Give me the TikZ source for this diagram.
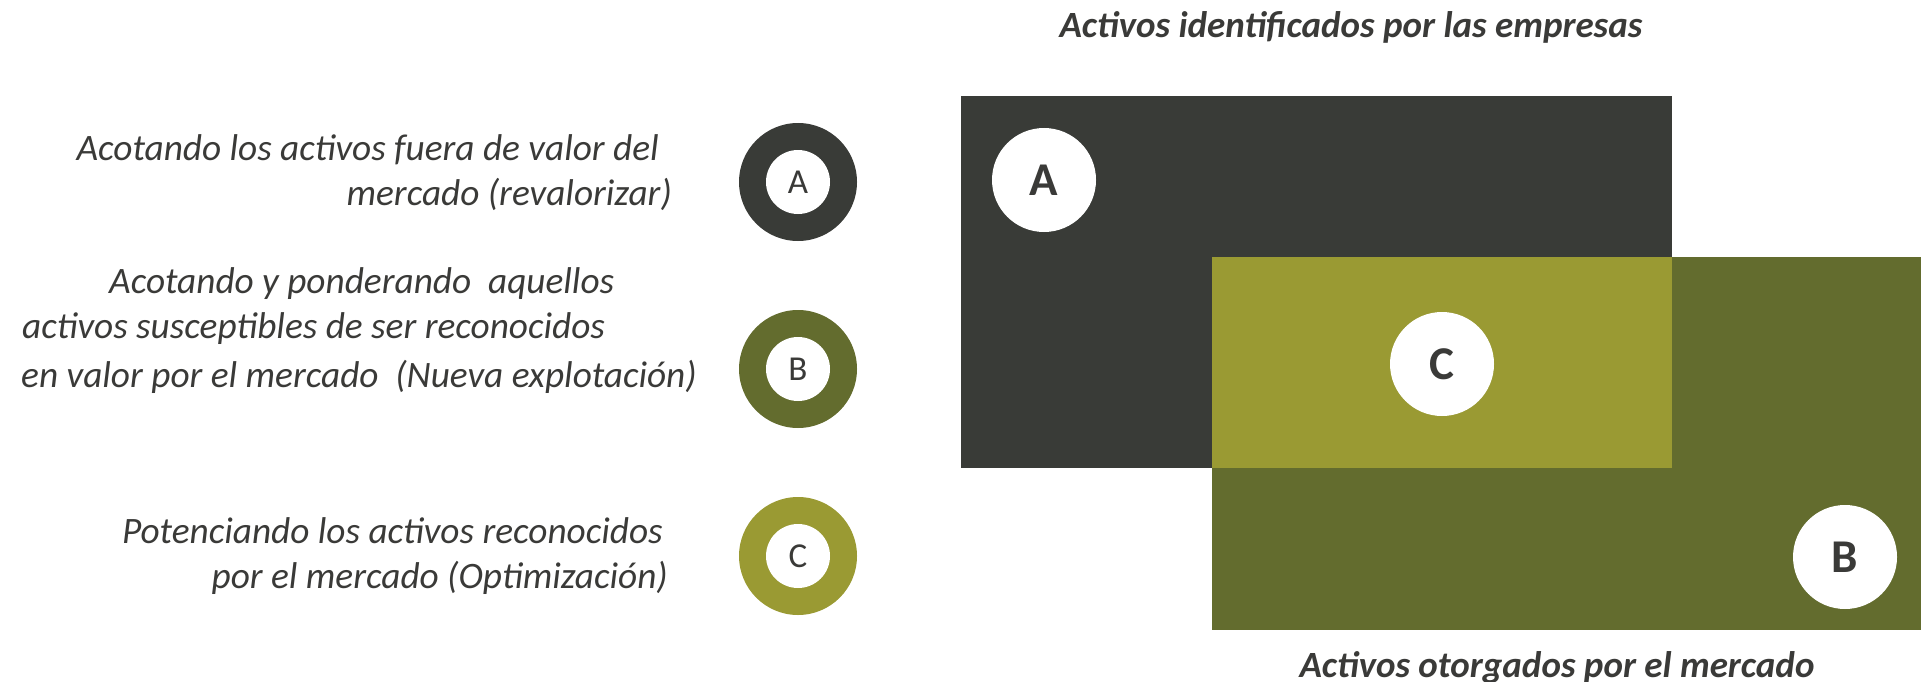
\documentclass[tikz,border=0pt]{standalone}
\usepackage{fontspec}
\setmainfont{Carlito}
\definecolor{inkgray}{HTML}{3A3A38}
\definecolor{darkbox}{HTML}{393B37}
\definecolor{olivebox}{HTML}{636C2E}
\definecolor{limebox}{HTML}{9A9A33}
\begin{document}
\begin{tikzpicture}[x=1pt,y=-1pt,
  desc/.style={inner sep=0pt,text=inkgray,font=\fontsize{37.3}{44}\selectfont\itshape},
  heading/.style={inner sep=0pt,text=inkgray,font=\fontsize{37}{44}\selectfont\bfseries\itshape},
  bigdisc/.style={circle,fill=white,minimum size=104pt,inner sep=0pt,text=inkgray,font=\fontsize{47}{50}\selectfont\bfseries},
  ringouter/.style={circle,minimum size=118pt,inner sep=0pt},
  ringinner/.style={circle,fill=white,minimum size=64pt,inner sep=0pt,text=inkgray,font=\fontsize{35}{40}\selectfont}]
  \useasboundingbox (0,0) rectangle (1921,682);

  % titles
  \node[heading,anchor=base] (ttop) at (1351,38) {Activos identificados por las empresas};
  \node[heading,anchor=base] (tbot) at (1557,677) {Activos otorgados por el mercado};

  % overlapping areas
  \fill[darkbox] (961,96) rectangle (1672,468);
  \fill[olivebox] (1212,257) rectangle (1921,630);
  \fill[limebox] (1212,257) rectangle (1672,468);

  \node[bigdisc] (bA) at (1044,180) {A};
  \node[bigdisc] (bC) at (1442,364) {C};
  \node[bigdisc] (bB) at (1845,557) {B};

  % legend rings
  \node[ringouter,fill=darkbox] (rA) at (798,182) {};
  \node[ringinner] (iA) at (rA) {A};
  \node[ringouter,fill=olivebox] (rB) at (798,369) {};
  \node[ringinner] (iB) at (rB) {B};
  \node[ringouter,fill=limebox] (rC) at (798,556) {};
  \node[ringinner] (iC) at (rC) {C};

  % legend texts
  \node[desc,anchor=base east] (a1) at (659,160) {Acotando los activos fuera de valor del};
  \node[desc,anchor=base east] (a2) at (672,205) {mercado (revalorizar)};
  \node[desc,anchor=base west] (b1) at (109,293) {Acotando y ponderando\ \ aquellos};
  \node[desc,anchor=base west] (b2) at (22,338) {activos susceptibles de ser reconocidos};
  \node[desc,anchor=base west] (b3) at (21,387) {en valor por el mercado\ \ (Nueva explotación)};
  \node[desc,anchor=base east] (c1) at (663,543) {Potenciando los activos reconocidos};
  \node[desc,anchor=base east] (c2) at (668,588) {por el mercado (Optimización)};
\end{tikzpicture}
\end{document}
